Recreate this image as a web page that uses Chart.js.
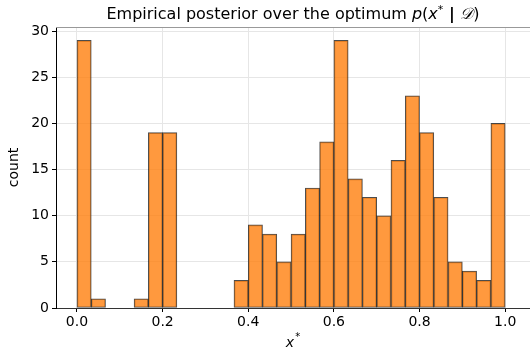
<!DOCTYPE html>
<html>
<head>
<meta charset="utf-8">
<script src="https://cdn.jsdelivr.net/npm/chart.js@4"></script>
<style>
  html, body { margin: 0; padding: 0; background: #fff; }
  #wrap { width: 530px; height: 350px; }
</style>
</head>
<body>
<div id="wrap"><canvas id="grafico"></canvas></div>
<script>
// histograma: 30 bins entre 0 y 1
const binStart = 0;
const binWidth = 1 / 30;
const counts = [29, 1, 0, 0, 1, 19, 19, 0, 0, 0, 0, 3, 9, 8, 5, 8, 13, 18, 29, 14, 12, 10, 16, 23, 19, 12, 5, 4, 3, 20];
const xTicks = [0, 0.2, 0.4, 0.6, 0.8, 1.0];
const yTicks = [0, 5, 10, 15, 20, 25, 30];

const fuente = '"DejaVu Sans", sans-serif';

const datos = counts.map((c, i) => ({ x: binStart + (i + 0.5) * binWidth, y: c }));

// textos dibujados a mano (titulo, ejes, borde superior)
const textos = {
  id: 'textos',
  afterDraw(chart) {
    const c = chart.ctx;
    const area = chart.chartArea;
    c.save();
    c.fillStyle = '#000';
    c.textBaseline = 'alphabetic';

    // borde superior
    c.strokeStyle = '#999';
    c.lineWidth = 1;
    c.beginPath();
    c.moveTo(area.left, area.top + 0.5);
    c.lineTo(area.right, area.top + 0.5);
    c.stroke();

    // titulo con partes en cursiva
    const partes = [
      { t: 'Empirical posterior over the optimum ', f: '16px ' + fuente },
      { t: 'p', f: 'italic 16px ' + fuente },
      { t: '(', f: '16px ' + fuente },
      { t: 'x', f: 'italic 16px ' + fuente },
      { t: '*', f: '11px ' + fuente, dy: -6 },
      { t: ' | ', f: 'bold 16px ' + fuente },
      { t: '\uD835\uDC9F', f: 'italic 16px ' + fuente },
      { t: ')', f: '16px ' + fuente }
    ];
    let total = 0;
    partes.forEach(p => { c.font = p.f; p.w = c.measureText(p.t).width; total += p.w; });
    let x = (area.left + area.right) / 2 - total / 2;
    partes.forEach(p => {
      c.font = p.f;
      c.textAlign = 'left';
      c.fillText(p.t, x, 19 + (p.dy || 0));
      x += p.w;
    });

    // titulo eje x
    const cx = (area.left + area.right) / 2;
    c.font = 'italic 14px ' + fuente;
    const wx = c.measureText('x').width;
    c.textAlign = 'left';
    c.fillText('x', cx - wx / 2 - 3, 347);
    c.font = '10px ' + fuente;
    c.fillText('*', cx + wx / 2 - 2, 340);

    // titulo eje y
    c.translate(14, (area.top + area.bottom) / 2);
    c.rotate(-Math.PI / 2);
    c.font = '14px ' + fuente;
    c.textAlign = 'center';
    c.textBaseline = 'middle';
    c.fillText('count', 0, 0);
    c.restore();
  }
};

const config = {
  type: 'bar',
  data: {
    datasets: [{
      label: 'count',
      data: datos,
      backgroundColor: 'rgba(255, 127, 14, 0.8)',
      borderColor: 'rgba(0, 0, 0, 0.7)',
      borderWidth: 1,
      borderSkipped: false,
      barPercentage: 1,
      categoryPercentage: 1,
      grouped: false
    }]
  },
  options: {
    responsive: false,
    animation: false,
    layout: { padding: { top: 27, right: 0, left: 0, bottom: 0 } },
    plugins: {
      legend: { display: false },
      tooltip: { enabled: false },
      title: { display: false }
    },
    scales: {
      x: {
        type: 'linear',
        offset: false,
        min: -0.049,
        max: 1.058,
        afterBuildTicks: s => { s.ticks = xTicks.map(v => ({ value: v })); },
        afterFit: s => { s.height = 42; },
        grid: { color: '#e6e6e6', tickColor: '#000', tickLength: 4, offset: false },
        border: { color: '#333', width: 1 },
        ticks: {
          color: '#000',
          padding: 2,
          maxRotation: 0,
          font: { family: fuente, size: 14 },
          callback: v => v.toFixed(1)
        }
      },
      y: {
        min: 0,
        max: 30.45,
        afterBuildTicks: s => { s.ticks = yTicks.map(v => ({ value: v })); },
        afterFit: s => { s.width = 56; },
        grid: { color: '#e6e6e6', tickColor: '#000', tickLength: 4 },
        border: { color: '#000', width: 1 },
        ticks: {
          color: '#000',
          padding: 3,
          font: { family: fuente, size: 14 },
          callback: v => String(v)
        }
      }
    }
  },
  plugins: [textos]
};

const canvas = document.getElementById('grafico');
canvas.width = 530;
canvas.height = 350;
const chart = new Chart(canvas, config);
</script>
</body>
</html>
